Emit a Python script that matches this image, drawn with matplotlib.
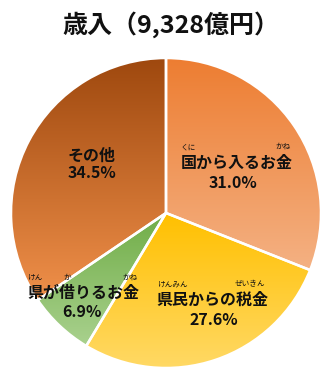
import numpy as np
import matplotlib
matplotlib.use("Agg")
import matplotlib.pyplot as plt
from matplotlib.colors import to_rgb

plt.rcParams['font.family'] = ['Noto Sans CJK JP', 'DejaVu Sans']

# 歳入の内訳 (%)
labels = ['国から入るお金', '県民からの税金', '県が借りるお金', 'その他']
shares = [31.0, 27.6, 6.9, 34.5]
title = '歳入（9,328億円）'

# グラデーション (上, 下)
top_colors = ['#ED7D31', '#FFC000', '#70AD47', '#9E480E']
bottom_colors = ['#F4B183', '#FFD966', '#A9D18E', '#F0904A']

# ふりがな: (ラベル番号, 文字, x, y) ピクセル位置
ruby = [
    (0, 'くに', 188, 147), (0, 'かね', 283, 147),
    (1, 'けんみん', 172, 284), (1, 'ぜいきん', 250, 284),
    (2, 'けん', 35, 278), (2, 'か', 67, 278), (2, 'かね', 130, 278),
]
# ラベル位置 (ピクセル): 名前の中心, 値の中心
label_pos = [
    ((237, 163), (233, 183), 'center'),
    ((212, 300), (214, 320), 'center'),
    ((83, 293), (82, 312), 'center'),
    ((68, 156), (68, 173), 'left'),
]

CX, CY, R = 166, 213, 155


def px(x, y):
    return (x - CX) / R, (CY - y) / R


fig = plt.figure(figsize=(3.26, 3.81), dpi=100)
ax = fig.add_axes([11 / 326, 1 - (CY + R) / 381, 2 * R / 326, 2 * R / 381])

wedges, _ = ax.pie(shares, startangle=90, counterclock=False, radius=1,
                   wedgeprops=dict(facecolor='none', edgecolor='white', linewidth=1.8))

for w, ctop, cbot in zip(wedges, top_colors, bottom_colors):
    verts = w.get_patch_transform().transform(w.get_path().vertices)
    x0, y0 = verts.min(axis=0)
    x1, y1 = verts.max(axis=0)
    t = np.linspace(0, 1, 256)[:, None]
    grad = (1 - t) * np.array(to_rgb(cbot)) + t * np.array(to_rgb(ctop))
    im = ax.imshow(grad[:, None, :], extent=[x0, x1, y0, y1], origin='lower',
                   aspect='auto', zorder=1, interpolation='bilinear')
    im.set_clip_path(w)
    w.set_zorder(2)

ax.set_xlim(-1, 1)
ax.set_ylim(-1, 1)
ax.axis('off')

for i, (name, val) in enumerate(zip(labels, shares)):
    (nx, ny), (vx, vy), ha = label_pos[i]
    ax.text(*px(nx, ny), name, ha=ha, va='center', fontsize=11.5,
            fontweight='bold', color='#111111', zorder=5)
    ax.text(*px(vx, vy), f'{val:.1f}%', ha=ha, va='center', fontsize=11.5,
            fontweight='bold', color='#111111', zorder=5)

for _, kana, x, y in ruby:
    ax.text(*px(x, y), kana, ha='center', va='center', fontsize=5.5,
            color='#111111', zorder=5)

fig.text(171 / 326, 1 - 25 / 381, title, ha='center', va='center',
         fontsize=18, fontweight='bold', color='#111111')

fig.savefig('out.png', dpi=100)
